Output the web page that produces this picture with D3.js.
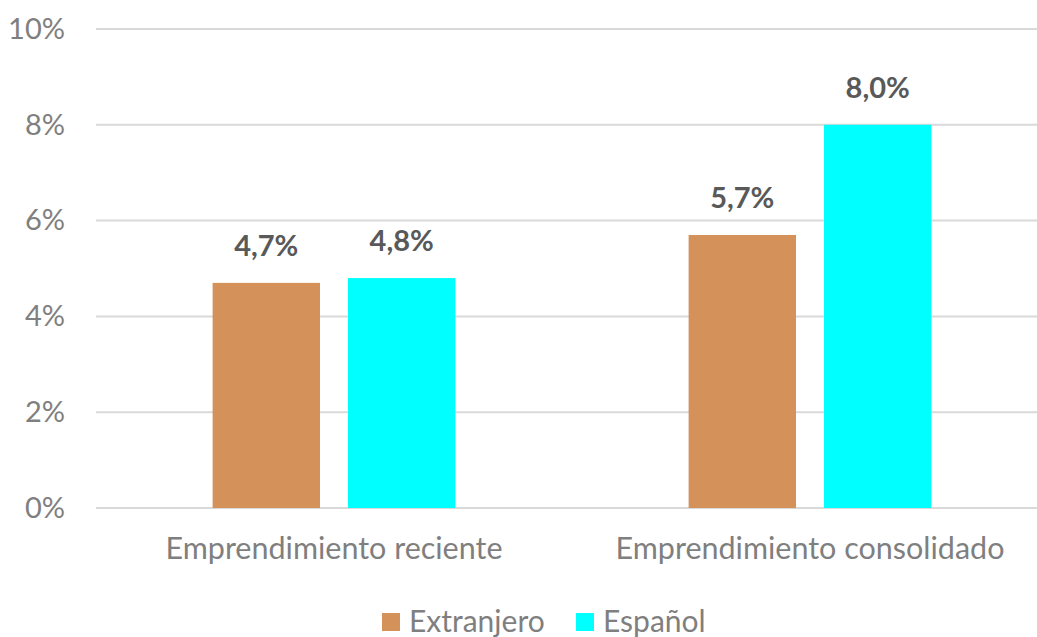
<!DOCTYPE html>
<html><head><meta charset="utf-8">
<script src="https://cdn.jsdelivr.net/npm/d3@7"></script>
<style>
html,body{margin:0;padding:0;background:#fff;}
svg{display:block;font-family:Lato,"Open Sans",sans-serif;}
</style></head>
<body>
<svg id="chart" width="1037" height="637"></svg>
<script>
const categories = ["Emprendimiento reciente", "Emprendimiento consolidado"];
const seriesNames = ["Extranjero", "Español"];
const extranjero = [0.047, 0.057];
const espanol = [0.048, 0.080];
const yTicks = [0, 0.02, 0.04, 0.06, 0.08, 0.10];
const colors = ["#d4915a", "#00ffff"];

const svg = d3.select("#chart");
const W = 1037, H = 637;
const plot = {left: 96, right: 1048, top: 29, bottom: 508};

const x0 = d3.scaleBand().domain(categories).range([plot.left, plot.right]).paddingInner(0.49).paddingOuter(0.245);
const x1 = d3.scaleBand().domain(seriesNames).range([0, x0.bandwidth()]).paddingInner(0.207).paddingOuter(0);
const y = d3.scaleLinear().domain([0, 0.10]).range([plot.bottom, plot.top]);
const color = d3.scaleOrdinal().domain(seriesNames).range(colors);

// gridlines
svg.append("g").selectAll("line").data(yTicks).join("line")
  .attr("x1", plot.left).attr("x2", W)
  .attr("y1", d => y(d)).attr("y2", d => y(d))
  .attr("stroke", "#d9d9d9").attr("stroke-width", 2);

// y axis labels
const yAxis = d3.axisLeft(y).tickValues(yTicks).tickFormat(d => Math.round(d*100) + "%").tickSize(0).tickPadding(31);
const ya = svg.append("g").attr("transform", `translate(${plot.left},0)`).call(yAxis);
ya.select(".domain").remove();
ya.selectAll("text").attr("fill", "#7f7f7f").style("font-size", "29px").style("font-family", "Lato, 'Open Sans', sans-serif");

// bars
const data = categories.map((c, i) => ({cat: c, values: [
  {name: seriesNames[0], v: extranjero[i]},
  {name: seriesNames[1], v: espanol[i]}
]}));
const groups = svg.append("g").selectAll("g").data(data).join("g")
  .attr("transform", d => `translate(${x0(d.cat)},0)`);
groups.selectAll("rect").data(d => d.values).join("rect")
  .attr("x", d => x1(d.name)).attr("width", x1.bandwidth())
  .attr("y", d => y(d.v)).attr("height", d => y(0) - y(d.v))
  .attr("fill", d => color(d.name));
groups.selectAll("text.lbl").data(d => d.values).join("text").attr("class", "lbl")
  .attr("x", d => x1(d.name) + x1.bandwidth()/2).attr("y", d => y(d.v) - 27)
  .attr("text-anchor", "middle").attr("fill", "#595959")
  .style("font-size", "29px").style("font-weight", "bold")
  .text(d => (d.v*100).toFixed(1).replace(".", ",") + "%");

// x axis labels
const xAxis = d3.axisBottom(x0).tickSize(0).tickPadding(29);
const xa = svg.append("g").attr("transform", `translate(0,${plot.bottom})`).call(xAxis);
xa.select(".domain").remove();
xa.selectAll("text").attr("fill", "#7f7f7f").style("font-size", "30.5px").style("font-family", "Lato, 'Open Sans', sans-serif");

// legend
const legendItems = [{name: seriesNames[0], x: 382}, {name: seriesNames[1], x: 576}];
const lg = svg.append("g").selectAll("g").data(legendItems).join("g")
  .attr("transform", d => `translate(${d.x},613)`);
lg.append("rect").attr("width", 18).attr("height", 18).attr("fill", d => color(d.name));
lg.append("text").attr("x", 27).attr("y", 19).attr("fill", "#7f7f7f")
  .style("font-size", "30px").text(d => d.name);
</script>
</body></html>
